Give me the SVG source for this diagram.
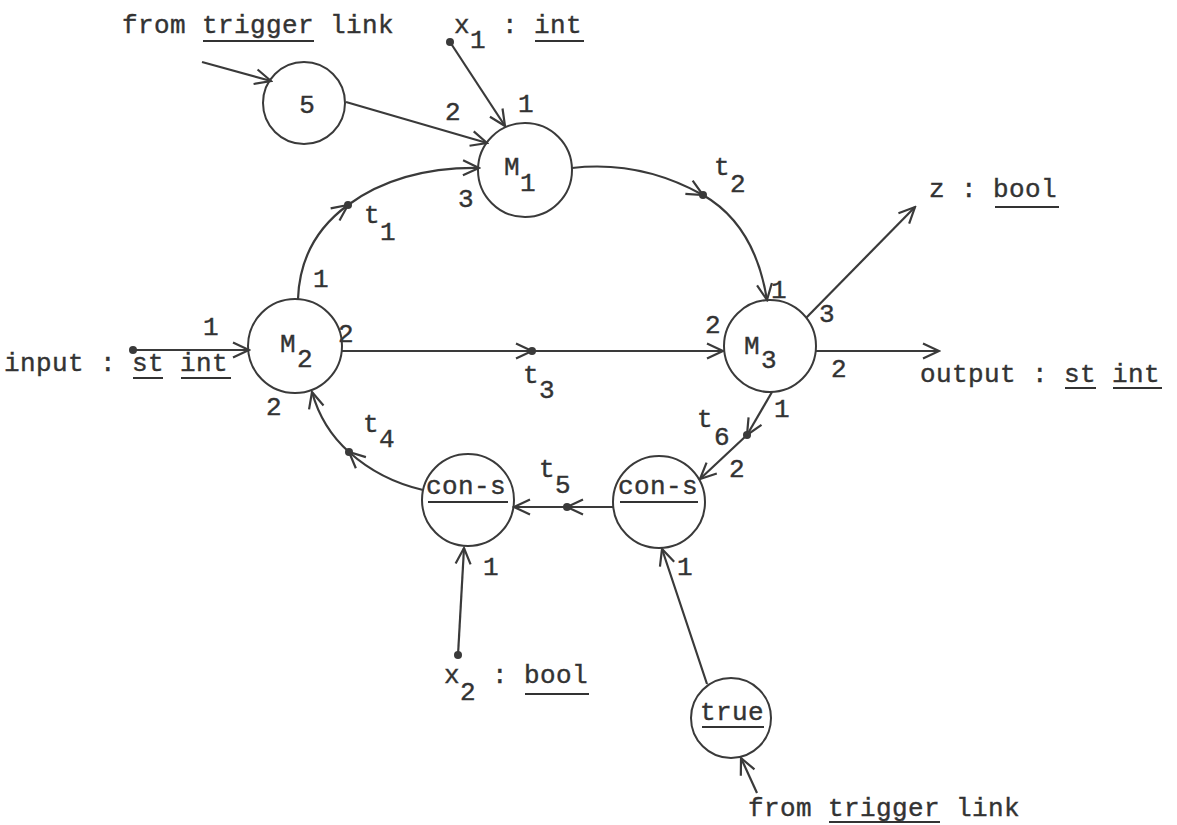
<svg xmlns="http://www.w3.org/2000/svg" width="1177" height="825" viewBox="0 0 1177 825">
<style>
  .bg{fill:#ffffff}
  .node{fill:none;stroke:#3a3a3a;stroke-width:2}
  .edge{fill:none;stroke:#3a3a3a;stroke-width:2.2;marker-end:url(#arr)}
  .dot{fill:#3a3a3a}
  text{font-family:"Liberation Mono","DejaVu Sans Mono",monospace;font-size:26px;fill:#333333;stroke:#333333;stroke-width:0.4}
  .t{letter-spacing:0.4px}
  .ul{stroke:#333333;stroke-width:2}
</style>
<defs>
  <marker id="arr" markerUnits="userSpaceOnUse" markerWidth="20" markerHeight="20" viewBox="0 0 20 20" refX="18" refY="10" orient="auto">
    <path d="M2,2.5 L18,10 L2,17.5" fill="none" stroke="#3a3a3a" stroke-width="2.2"/>
  </marker>
</defs>
<rect class="bg" x="0" y="0" width="1177" height="825"/>

<g id="connectors">
  <path class="edge" d="M202,62 L271,81"/>
  <path class="edge" d="M346,102 L487,143"/>
  <path class="edge" d="M450,42 L505,126"/>
  <path class="edge" d="M298,299 Q300,240 348,205"/>
  <path class="edge" d="M348,205 Q400,167 479,168"/>
  <path class="edge" d="M572,168 Q640,160 703,195"/>
  <path class="edge" d="M703,195 Q755,225 767,300"/>
  <path class="edge" d="M133,350 L249,350"/>
  <path class="edge" d="M342,351 L532,351"/>
  <path class="edge" d="M532,351 L723,351"/>
  <path class="edge" d="M806,318 L915,207"/>
  <path class="edge" d="M816,351 L939,351"/>
  <path class="edge" d="M772,392 L747,435"/>
  <path class="edge" d="M747,435 L700,479"/>
  <path class="edge" d="M613,507 L567,507"/>
  <path class="edge" d="M567,507 L514,507"/>
  <path class="edge" d="M423,490 Q380,480 349,452"/>
  <path class="edge" d="M349,452 Q322,428 312,392"/>
  <path class="edge" d="M458,655 L464,548"/>
  <path class="edge" d="M707,684 L662,549"/>
  <path class="edge" d="M757,793 L741,758"/>
  <circle class="dot" cx="450" cy="42" r="4"/>
  <circle class="dot" cx="133" cy="350" r="4"/>
  <circle class="dot" cx="458" cy="655" r="4"/>
  <circle class="dot" cx="348" cy="205" r="4"/>
  <circle class="dot" cx="703" cy="195" r="4"/>
  <circle class="dot" cx="532" cy="351" r="4"/>
  <circle class="dot" cx="349" cy="452" r="4"/>
  <circle class="dot" cx="567" cy="507" r="4"/>
  <circle class="dot" cx="747" cy="435" r="4"/>
  <!-- port numbers -->
  <text x="445" y="120">2</text>
  <text x="518" y="112">1</text>
  <text x="458" y="207">3</text>
  <text x="313" y="287">1</text>
  <text x="203" y="335">1</text>
  <text x="338" y="342">2</text>
  <text x="266" y="415">2</text>
  <text x="705" y="333">2</text>
  <text x="771" y="298">1</text>
  <text x="819" y="322">3</text>
  <text x="831" y="377">2</text>
  <text x="774" y="417">1</text>
  <text x="729" y="477">2</text>
  <text x="483" y="575">1</text>
  <text x="677" y="575">1</text>
  <!-- link labels -->
  <text x="364" y="223">t<tspan x="380" y="240">1</tspan></text>
  <text x="714" y="175">t<tspan x="730" y="192">2</tspan></text>
  <text x="523" y="383">t<tspan x="539" y="398">3</tspan></text>
  <text x="363" y="432">t<tspan x="379" y="447">4</tspan></text>
  <text x="539" y="477">t<tspan x="555" y="493">5</tspan></text>
  <text x="697" y="427">t<tspan x="714" y="445">6</tspan></text>
</g>

<g id="n-five">
  <circle class="node" cx="304" cy="103" r="41"/>
  <text x="307" y="113" text-anchor="middle">5</text>
</g>
<g id="n-M1">
  <circle class="node" cx="525" cy="170" r="47"/>
  <text x="504" y="175">M<tspan x="520" y="191">1</tspan></text>
</g>
<g id="n-M2">
  <circle class="node" cx="295" cy="346" r="47"/>
  <text x="280" y="352">M<tspan x="297" y="367">2</tspan></text>
</g>
<g id="n-M3">
  <circle class="node" cx="770" cy="346" r="46"/>
  <text x="744" y="354">M<tspan x="761" y="368">3</tspan></text>
</g>
<g id="n-cons-left">
  <circle class="node" cx="468" cy="500" r="46"/>
  <text class="t" x="426" y="494">con-s</text>
  <line class="ul" x1="428" y1="502" x2="508" y2="502"/>
</g>
<g id="n-cons-right">
  <circle class="node" cx="659" cy="502" r="46"/>
  <text class="t" x="618" y="494">con-s</text>
  <line class="ul" x1="620" y1="502" x2="698" y2="502"/>
</g>
<g id="n-true">
  <circle class="node" cx="731" cy="718" r="40"/>
  <text class="t" x="700" y="720">true</text>
  <line class="ul" x1="702" y1="727" x2="764" y2="727"/>
</g>

<g id="labels">
  <text class="t" x="122" y="33">from trigger link</text>
  <line class="ul" x1="203" y1="41" x2="314" y2="41"/>
  <text class="t" x="454" y="33">x<tspan y="48">1</tspan><tspan y="33"> : int</tspan></text>
  <line class="ul" x1="535" y1="41" x2="584" y2="41"/>
  <text class="t" x="4" y="371">input : st int</text>
  <line class="ul" x1="133" y1="378" x2="163" y2="378"/>
  <line class="ul" x1="181" y1="378" x2="231" y2="378"/>
  <text class="t" x="929" y="197">z : bool</text>
  <line class="ul" x1="995" y1="207" x2="1059" y2="207"/>
  <text class="t" x="920" y="382">output : st int</text>
  <line class="ul" x1="1065" y1="388" x2="1096" y2="388"/>
  <line class="ul" x1="1113" y1="388" x2="1162" y2="388"/>
  <text class="t" x="444" y="683">x<tspan y="700">2</tspan><tspan y="683"> : bool</tspan></text>
  <line class="ul" x1="525" y1="694" x2="589" y2="694"/>
  <text class="t" x="748" y="816">from trigger link</text>
  <line class="ul" x1="829" y1="822" x2="940" y2="822"/>
</g>
</svg>
